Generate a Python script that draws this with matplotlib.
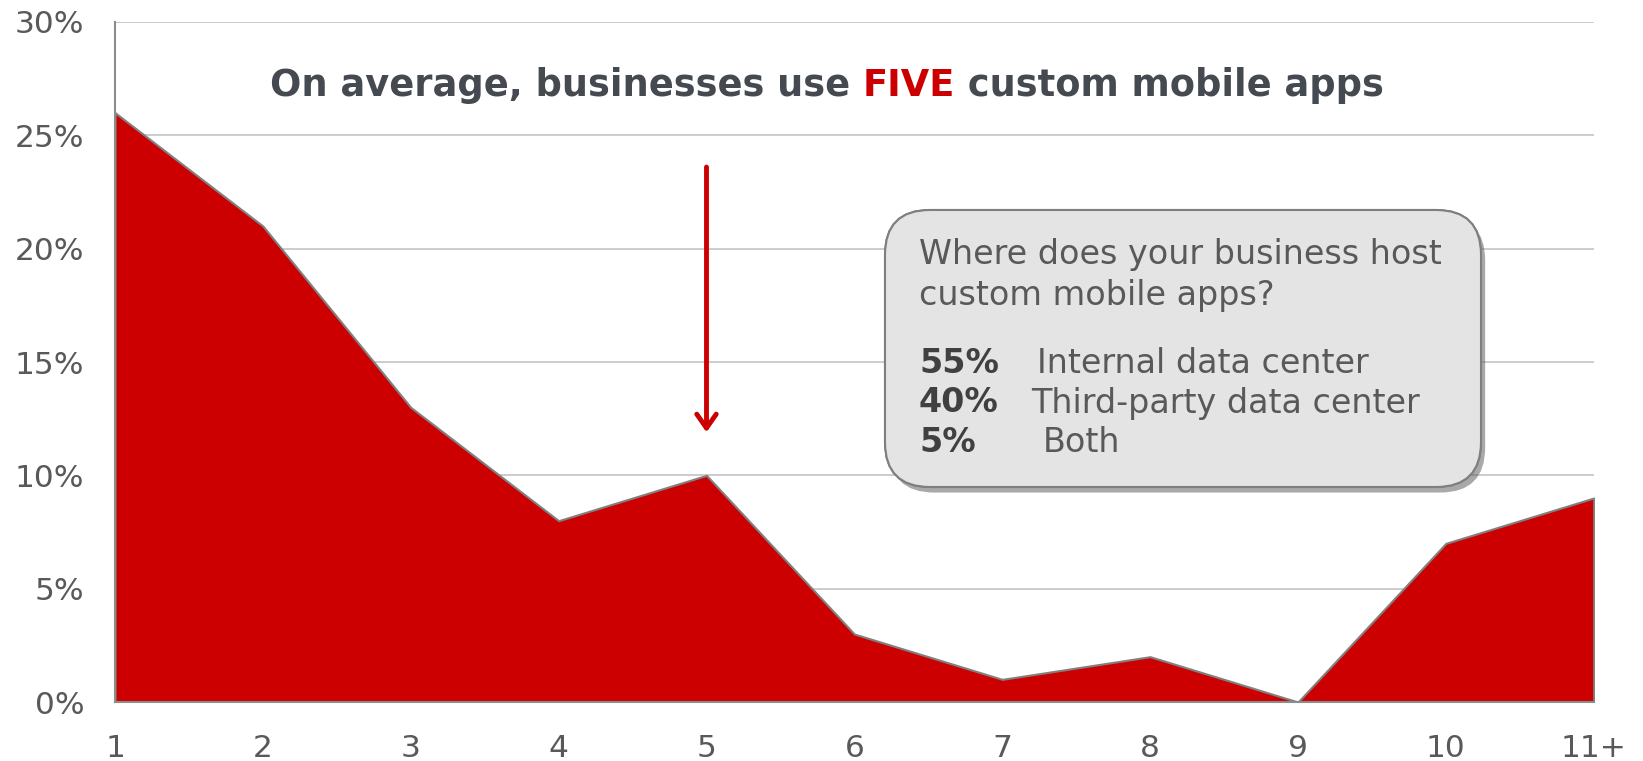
import numpy as np
import matplotlib
matplotlib.use("Agg")
import matplotlib.pyplot as plt
from matplotlib.patches import FancyBboxPatch
import matplotlib.patheffects as pe

plt.rcParams["font.family"] = ["DejaVu Sans"]

# share of businesses by number of custom mobile apps
app_counts = ["1", "2", "3", "4", "5", "6", "7", "8", "9", "10", "11+"]
share_pct = [26, 21, 13, 8, 10, 3, 1, 2, 0, 7, 9]

hosting_pct = ["55%", "40%", "5%"]
hosting_lbl = ["Internal data center", "Third-party data center", "Both"]

red = "#cc0000"
txt_grey = "#595959"
title_grey = "#454a51"

fig = plt.figure(figsize=(16.43, 7.61), dpi=100)
ax = fig.add_axes([0.070, 0.0775, 0.900, 0.8936])

x = np.arange(len(app_counts))
ax.fill_between(x, share_pct, 0, color=red, edgecolor="#808080", lw=1.5, zorder=2)

ax.set_xlim(0, len(app_counts) - 1)
ax.set_ylim(0, 30)
ax.set_xticks(x)
ax.set_xticklabels(app_counts)
ax.set_yticks(range(0, 31, 5))
ax.set_yticklabels([f"{v}%" for v in range(0, 31, 5)])
ax.tick_params(axis="both", length=0, labelsize=22.5, labelcolor=txt_grey)
ax.tick_params(axis="y", pad=22)
ax.tick_params(axis="x", pad=23)

ax.grid(axis="y", color="#c8c8c8", lw=1.3, zorder=0)
ax.set_axisbelow(True)
for s in ["top", "right"]:
    ax.spines[s].set_visible(False)
for s in ["left", "bottom"]:
    ax.spines[s].set_color("#8c8c8c")
    ax.spines[s].set_linewidth(1.5)

# arrow pointing at the average (5 apps)
ax.annotate("", xy=(4, 11.9), xytext=(4, 23.6),
            arrowprops=dict(arrowstyle="->,head_length=1.0,head_width=0.7",
                            color=red, lw=3.5, shrinkA=0, shrinkB=0),
            zorder=4)

# title with highlighted word
tfs = 26.5
t1 = fig.text(270 / 1643, 1 - 86 / 761, "On average, businesses use ", fontsize=tfs,
              fontweight="bold", color=title_grey, va="center", ha="left")
t2 = ax.annotate("FIVE", xy=(1, 0), xycoords=t1, va="bottom", ha="left",
                 fontsize=tfs, fontweight="bold", color=red)
ax.annotate(" custom mobile apps", xy=(1, 0), xycoords=t2, va="bottom", ha="left",
            fontsize=tfs, fontweight="bold", color=title_grey)

# callout box
box = FancyBboxPatch((8.85, 2.74), 5.96, 2.77,
                     boxstyle="round,pad=0,rounding_size=0.45",
                     transform=fig.dpi_scale_trans, facecolor="#e4e4e4",
                     edgecolor="#7f7f7f", lw=1.5, zorder=5,
                     path_effects=[pe.withSimplePatchShadow(offset=(3, -4), shadow_rgbFace="#555555", alpha=0.5),
                                   pe.Normal()])
fig.add_artist(box)

fs = 24
fig.text(919 / 1643, 1 - 255 / 761, "Where does your business host", fontsize=fs,
         color=txt_grey, va="center", ha="left", zorder=6)
fig.text(919 / 1643, 1 - 296 / 761, "custom mobile apps?", fontsize=fs,
         color=txt_grey, va="center", ha="left", zorder=6)
row_y = [364, 403, 442]
lbl_x = [1037, 1031, 1043]
for pct, lbl, yy, lx in zip(hosting_pct, hosting_lbl, row_y, lbl_x):
    fig.text(919 / 1643, 1 - yy / 761, pct, fontsize=fs, fontweight="bold",
             color="#404040", va="center", ha="left", zorder=6)
    fig.text(lx / 1643, 1 - yy / 761, lbl, fontsize=fs,
             color=txt_grey, va="center", ha="left", zorder=6)

fig.savefig("out.png", dpi=100)
